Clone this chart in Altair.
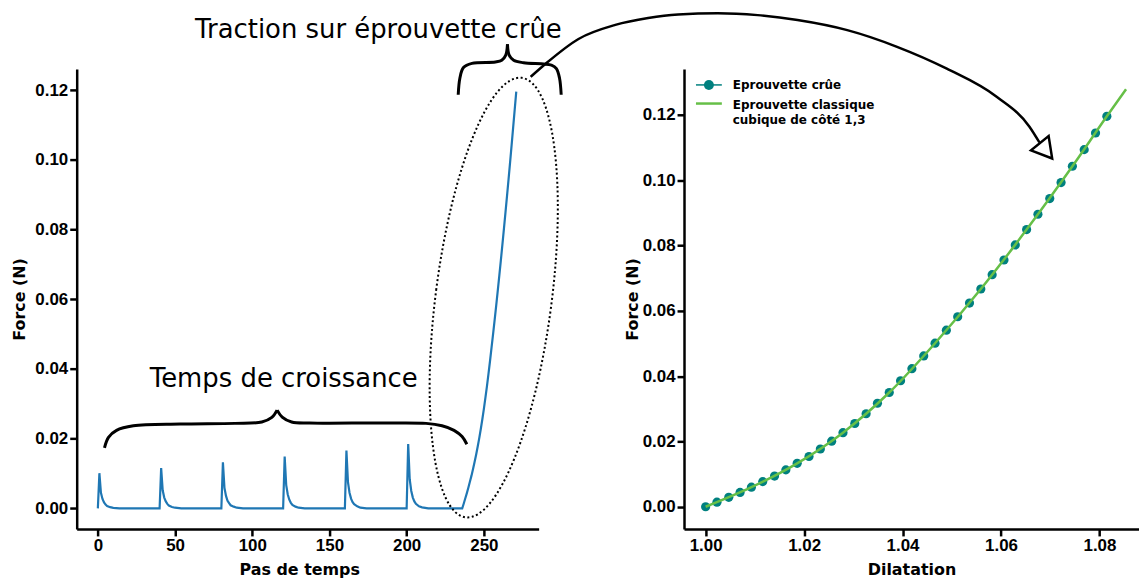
import altair as alt
import pandas as pd

# ---------------- data ----------------
# growth phase (six growth pulses)
growth_steps = [0, 1, 2, 3, 4, 5, 6, 8, 10, 14,
                40, 41, 42, 43, 44, 45, 46, 48, 50, 54,
                80, 81, 82, 83, 84, 85, 86, 88, 90, 94,
                120, 121, 122, 123, 124, 125, 126, 128, 130, 134,
                160, 161, 162, 163, 164, 165, 166, 168, 170, 174,
                200, 201, 202, 203, 204, 205, 206, 208, 210, 214]
growth_force = [0, 0.0101, 0.0045, 0.0027, 0.0017, 0.0011, 0.0007, 0.00035, 0.00015, 0,
                0, 0.0116, 0.0052, 0.0031, 0.0020, 0.0013, 0.0008, 0.0004, 0.0002, 0,
                0, 0.0132, 0.0059, 0.0036, 0.0022, 0.0015, 0.0009, 0.0005, 0.0002, 0,
                0, 0.0149, 0.0067, 0.0040, 0.0025, 0.0016, 0.0010, 0.0005, 0.0002, 0,
                0, 0.0166, 0.0075, 0.0045, 0.0028, 0.0018, 0.0012, 0.0006, 0.0002, 0,
                0, 0.0185, 0.0083, 0.0050, 0.0031, 0.0020, 0.0013, 0.0006, 0.0003, 0]

# traction phase
traction_steps = [236, 237, 238, 239, 240, 241, 242, 243, 244, 245, 246, 247,
                  248, 249, 250, 251, 252, 253, 254, 255, 256, 257, 258, 259,
                  260, 261, 262, 263, 264, 265, 266, 267, 268, 269, 270, 271]
dilatation = [1.0000, 1.0023, 1.0047, 1.0070, 1.0093, 1.0116, 1.0140, 1.0163, 1.0186,
              1.0210, 1.0233, 1.0256, 1.0279, 1.0303, 1.0326, 1.0349, 1.0373, 1.0396,
              1.0419, 1.0443, 1.0466, 1.0489, 1.0512, 1.0536, 1.0559, 1.0582, 1.0606,
              1.0629, 1.0652, 1.0675, 1.0699, 1.0722, 1.0745, 1.0769, 1.0792, 1.0815]
traction_force = [0.0000, 0.0014, 0.0029, 0.0044, 0.0060, 0.0077, 0.0094, 0.0113, 0.0133,
                  0.0154, 0.0177, 0.0201, 0.0227, 0.0255, 0.0285, 0.0317, 0.0350, 0.0386,
                  0.0423, 0.0462, 0.0501, 0.0541, 0.0582, 0.0624, 0.0667, 0.0711, 0.0756,
                  0.0802, 0.0849, 0.0896, 0.0944, 0.0993, 0.1043, 0.1094, 0.1145, 0.1196]

# classical cubic specimen (reference curve)
cubic_dilatation = [1.0000, 1.0093, 1.0186, 1.0279, 1.0373, 1.0466, 1.0559, 1.0652,
                    1.0745, 1.0815, 1.0854]
cubic_force = [0.0000, 0.0060, 0.0133, 0.0227, 0.0350, 0.0501, 0.0667, 0.0849,
               0.1043, 0.1196, 0.1279]

x_ticks_left = [0, 50, 100, 150, 200, 250]
y_ticks = [0.00, 0.02, 0.04, 0.06, 0.08, 0.10, 0.12]
x_ticks_right = [1.00, 1.02, 1.04, 1.06, 1.08]

# annotation shapes (in data coordinates of each panel)
brace_low_t = [4.3, 6.9, 12.1, 23.0, 53.3, 88.8, 106.2, 112.7, 116.1,
               116.1, 119.4, 125.5, 137.2, 182.3, 212.6, 222.9, 230.7, 235.9, 239.0]
brace_low_f = [0.0174, 0.0204, 0.0224, 0.0237, 0.0242, 0.0244, 0.0248, 0.0261, 0.0282,
               0.0282, 0.0262, 0.0248, 0.0245, 0.0245, 0.0244, 0.0237, 0.0224, 0.0206, 0.0184]
brace_low_part = ["a"] * 9 + ["b"] * 10
brace_top_t = [233.4, 234.5, 236.8, 242.3, 257.5, 261.6, 264.2, 265.3,
               265.3, 266.4, 269.3, 275.8, 293.8, 297.0, 299.0, 300.1]
brace_top_f = [0.1187, 0.1235, 0.1265, 0.1277, 0.1281, 0.1286, 0.1301, 0.1332,
               0.1332, 0.1301, 0.1286, 0.1279, 0.1272, 0.1262, 0.1235, 0.1187]
brace_top_part = ["a"] * 8 + ["b"] * 8
arc_dil = [0.96447, 0.96750, 0.97418, 0.98166, 0.98833, 0.99440, 1.00249, 1.01058,
           1.01866, 1.02877, 1.03888, 1.04899, 1.05911, 1.06578, 1.06780]
arc_f = [0.1317, 0.1357, 0.1433, 0.1476, 0.1497, 0.1508, 0.1512, 0.1506,
         0.1491, 0.1460, 0.1409, 0.1342, 0.1256, 0.1164, 0.1116]

# ---------------- styles ----------------
BLUE = "#1f77b4"
TEAL = "#00807f"
GREEN = "#66bf47"


def make_axis(values, fmt, title, pad, **kw):
    return alt.Axis(values=values, format=fmt, title=title, grid=False,
                    domainColor="black", domainWidth=2.5, tickColor="black",
                    tickWidth=2.5, tickSize=7, labelPadding=2,
                    labelFont="Liberation Sans", labelFontSize=17,
                    labelFontWeight="bold", labelColor="black",
                    labelFlush=False, labelOverlap=False,
                    titleFont="DejaVu Sans", titleFontSize=16,
                    titleFontWeight="bold", titleColor="black",
                    titlePadding=pad, **kw)


W_L, W_R, H = 464, 457, 462

xL = alt.X("t:Q", scale=alt.Scale(domain=[-13.7, 285.5], nice=False, zero=False),
           axis=make_axis(x_ticks_left, "d", "Pas de temps", 8, titleX=223.5))
yL = alt.Y("F:Q", scale=alt.Scale(domain=[-0.0059, 0.1261], nice=False, zero=False),
           axis=make_axis(y_ticks, ".2f", "Force (N)", 7))

xR = alt.X("d:Q", scale=alt.Scale(domain=[0.99561, 1.08803], nice=False, zero=False),
           axis=make_axis(x_ticks_right, ".2f", "Dilatation", 8))
yR = alt.Y("F:Q", scale=alt.Scale(domain=[-0.0068, 0.1341], nice=False, zero=False),
           axis=make_axis(y_ticks, ".2f", "Force (N)", 2))

one = pd.DataFrame({"k": [0]})

# ---------------- left panel ----------------
left_df = pd.DataFrame({"t": growth_steps + traction_steps,
                        "F": growth_force + traction_force})
left_line = alt.Chart(left_df).mark_line(color=BLUE, strokeWidth=2.2).encode(x=xL, y=yL)

brace_low = alt.Chart(pd.DataFrame({"t": brace_low_t, "F": brace_low_f, "p": brace_low_part})
                      ).mark_line(color="black", strokeWidth=3, interpolate="catmull-rom"
                                  ).encode(x=xL, y=yL, detail="p:N")
brace_top = alt.Chart(pd.DataFrame({"t": brace_top_t, "F": brace_top_f, "p": brace_top_part})
                      ).mark_line(color="black", strokeWidth=3, interpolate="catmull-rom"
                                  ).encode(x=xL, y=yL, detail="p:N")

ellipse = alt.Chart(pd.DataFrame({"t": [256.4], "F": [0.0605]})).mark_point(
    shape="M -0.262 0 A 0.262 1 0 1 1 0.262 0 A 0.262 1 0 1 1 -0.262 0 Z",
    size=198025, filled=False, stroke="black", strokeWidth=2, strokeDash=[2, 2.5],
    angle=7.3, opacity=1).encode(x=xL, y=yL)

txt_growth = alt.Chart(pd.DataFrame({"t": [120.4], "F": [0.0347]})).mark_text(
    text="Temps de croissance", font="DejaVu Sans", fontSize=26, color="black",
    align="center", baseline="alphabetic").encode(x=xL, y=yL)
txt_traction = alt.Chart(pd.DataFrame({"t": [181.7], "F": [0.1349]})).mark_text(
    text="Traction sur éprouvette crûe", font="DejaVu Sans", fontSize=26, color="black",
    align="center", baseline="alphabetic").encode(x=xL, y=yL)

# white (invisible) layout anchor: defines the top-left corner of the drawing
anchor = alt.Chart(one).mark_point(filled=True, color="white", size=4, opacity=1).encode(
    x=alt.value(-76), y=alt.value(-72))

left = alt.layer(left_line, brace_low, brace_top, ellipse, txt_growth, txt_traction,
                 anchor).properties(width=W_L, height=H)

# ---------------- right panel ----------------
pts_df = pd.DataFrame({"d": dilatation, "F": traction_force})
points = alt.Chart(pts_df).mark_circle(size=85, color=TEAL, opacity=1).encode(x=xR, y=yR)
cubic = alt.Chart(pd.DataFrame({"d": cubic_dilatation, "F": cubic_force})).mark_line(
    color=GREEN, strokeWidth=2.5, interpolate="monotone").encode(x=xR, y=yR)

arc = alt.Chart(pd.DataFrame({"d": arc_dil, "F": arc_f})).mark_line(
    color="black", strokeWidth=2.5, interpolate="monotone").encode(x=xR, y=yR)
head = alt.Chart(pd.DataFrame({"d": [1.06872], "F": [0.1098]})).mark_point(
    shape="M 0 -1 L 0.866 0.5 L -0.866 0.5 Z", size=692, filled=True, fill="white",
    stroke="black", strokeWidth=2.5, angle=141, opacity=1).encode(x=xR, y=yR)

leg_line1 = alt.Chart(one).mark_rule(color=TEAL, strokeWidth=1.5).encode(
    x=alt.value(12), x2=alt.value(38), y=alt.value(16))
leg_pt1 = alt.Chart(one).mark_circle(size=100, color=TEAL, opacity=1).encode(
    x=alt.value(25), y=alt.value(16))
leg_line2 = alt.Chart(one).mark_rule(color=GREEN, strokeWidth=2.5).encode(
    x=alt.value(12), x2=alt.value(38), y=alt.value(34.7))
leg_style = dict(font="DejaVu Sans", fontSize=12, fontWeight="bold", color="black",
                 align="left", baseline="middle")
leg_t1 = alt.Chart(one).mark_text(text="Eprouvette crûe", **leg_style).encode(
    x=alt.value(49), y=alt.value(16))
leg_t2 = alt.Chart(one).mark_text(text="Eprouvette classique", **leg_style).encode(
    x=alt.value(49), y=alt.value(36.3))
leg_t3 = alt.Chart(one).mark_text(text="cubique de côté 1,3", **leg_style).encode(
    x=alt.value(49), y=alt.value(51.3))

right = alt.layer(points, cubic, arc, head, leg_line1, leg_pt1, leg_line2,
                  leg_t1, leg_t2, leg_t3).properties(width=W_R, height=H)

# anchor at (-76,-72) with padding (-8,-13) puts the left plot origin at page (76, 67)
chart = alt.hconcat(left, right, spacing=146, bounds="flush").properties(
    padding={"left": -8, "top": -13, "right": 0, "bottom": 0}
).configure_view(stroke=None)

chart.save("out.html", embed_options={"renderer": "svg", "actions": False})
